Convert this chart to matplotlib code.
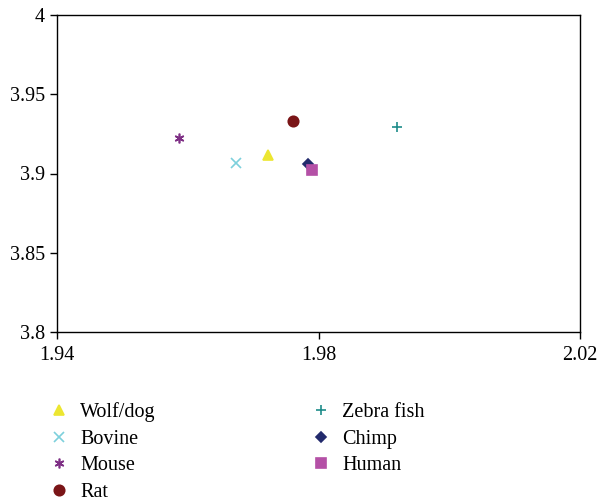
import matplotlib
matplotlib.use("Agg")
import matplotlib.pyplot as plt

plt.rcParams['font.family'] = ['Liberation Serif', 'DejaVu Serif']

species = ["Wolf/dog", "Bovine", "Mouse", "Rat", "Zebra fish", "Chimp", "Human"]
x_vals = [1.9723, 1.9674, 1.9587, 1.9761, 1.9920, 1.9784, 1.9790]
y_vals = [3.9117, 3.9066, 3.9224, 3.9331, 3.9293, 3.9060, 3.9022]
colors = ["#ECE631", "#7DD0DC", "#7E2F85", "#7A1517", "#1E8C8A", "#222A6C", "#B450A6"]
markers = ["^", "x", (6, 2, 0), "o", "+", "D", "s"]
sizes = [7, 7, 7, 7.5, 7, 5, 7]

x_ticks = [1.94, 1.98, 2.02]
y_ticks = [3.8, 3.85, 3.9, 3.95, 4.0]
y_labels = ["3.8", "3.85", "3.9", "3.95", "4"]

fig = plt.figure(figsize=(5.97, 5.03), dpi=100)
ax = fig.add_axes([57/597, 1 - 332/503, 523/597, 317/503])

for name, xv, yv, c, m, s in zip(species, x_vals, y_vals, colors, markers, sizes):
    ax.plot([xv], [yv], linestyle="none", marker=m, color=c, markersize=s,
            markeredgewidth=1.2, label=name)

ax.set_xlim(1.94, 2.02)
ax.set_ylim(3.8, 4.0)
ax.set_xticks(x_ticks)
ax.set_xticklabels([f"{t:.2f}" for t in x_ticks])
ax.set_yticks(y_ticks)
ax.set_yticklabels(y_labels)
ax.tick_params(direction="out", length=5, width=1, labelsize=14.5, colors="black")
ax.tick_params(axis="x", pad=5)
for sp in ax.spines.values():
    sp.set_linewidth(1)
    sp.set_color("black")

fig.legend(loc="upper left", bbox_to_anchor=(39/597, 1 - 394/503), ncol=2,
           frameon=False, fontsize=14.5, columnspacing=7.6, handletextpad=0.45,
           labelspacing=0.38, handlelength=1.2, borderaxespad=0)

fig.savefig("out.png", dpi=100)
